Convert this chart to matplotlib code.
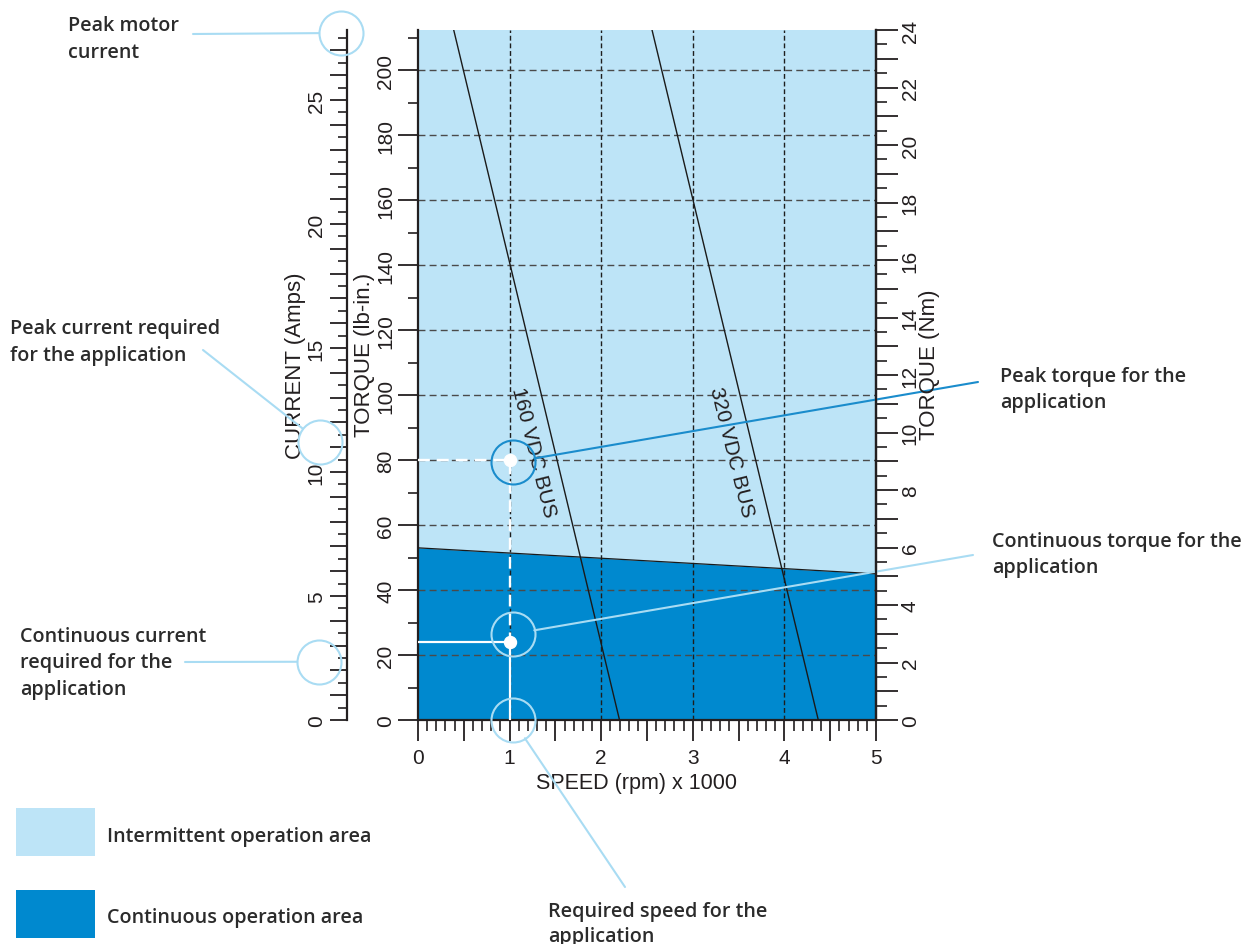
import matplotlib
matplotlib.use("Agg")
import matplotlib.pyplot as plt
from matplotlib.patches import Rectangle
from matplotlib.ticker import MultipleLocator, FuncFormatter
from matplotlib.transforms import offset_copy

W, H = 1256, 945
DPI = 100

# --- chart data ---
NM_TO_LBIN = 8.8507
torque_max_nm = 24
torque_max = torque_max_nm * NM_TO_LBIN      # lb-in at top of chart
current_max = 27.82                          # Amps at top of chart
speed_max = 5                                # rpm x 1000

cont_speed = [0, 5]
cont_torque = [53, 45]

bus160_speed = [0.39, 2.2]
bus160_torque = [torque_max, 0]
bus320_speed = [2.555, 4.37]
bus320_torque = [torque_max, 0]

app_speed = 1.0
app_peak_torque = 80
app_cont_torque = 24
peak_motor_current = 27.7
app_peak_current = 11.2
app_cont_current = 2.35

# --- styles ---
LIGHT = '#bde4f7'
DARK = '#0089cf'
LEADER = '#a9dcf3'
INK = '#231f20'
TXT = '#2b2b2b'
AXFONT = 'Liberation Sans'
NOTEFONT = ['Open Sans', 'DejaVu Sans']
TICK_FS = 15
LABEL_FS = 16
NOTE_FS = 14.2
PT = 72 / DPI  # points per pixel

plt.rcParams['font.family'] = [AXFONT, 'DejaVu Sans']


def px(x, y):
    """top-left pixel position -> figure fraction"""
    return x / W, 1 - y / H


fig = plt.figure(figsize=(W / DPI, H / DPI), dpi=DPI)

# main torque-speed axes
ax = fig.add_axes([418 / W, 1 - 721 / H, 458 / W, 690 / H])
ax.set_xlim(0, speed_max)
ax.set_ylim(0, torque_max)
ax.set_facecolor(LIGHT)
ax.fill_between(cont_speed, 0, cont_torque, color=DARK, lw=0, zorder=1)

for x in range(1, speed_max):
    ax.axvline(x, color='#1e1e1e', lw=1.0, dashes=(3.5, 2), zorder=2)
for y in range(20, 201, 20):
    ax.axhline(y, color='#4a4a4a', lw=1.0, dashes=(5, 3), zorder=2)

ax.plot(cont_speed, cont_torque, color='#1a1a1a', lw=0.9, zorder=3)
ax.plot(bus160_speed, bus160_torque, color='#1a1a1a', lw=1.0, zorder=4)
ax.plot(bus320_speed, bus320_torque, color='#1a1a1a', lw=1.0, zorder=4)
ax.text(1.266, 82.8, '160 VDC BUS', rotation=-76, rotation_mode='anchor',
        ha='center', va='center', fontsize=TICK_FS, color=INK, zorder=5)
ax.text(3.417, 82.8, '320 VDC BUS', rotation=-76, rotation_mode='anchor',
        ha='center', va='center', fontsize=TICK_FS, color=INK, zorder=5)

# application operating point guides
ax.plot([0, app_speed, app_speed], [app_peak_torque, app_peak_torque, app_cont_torque],
        color='white', lw=1.7, dashes=(5, 3), zorder=6)
ax.plot([0, app_speed, app_speed], [app_cont_torque, app_cont_torque, 0],
        color='white', lw=1.6, zorder=6)
ax.plot([app_speed, app_speed], [app_peak_torque, app_cont_torque], 'o',
        color='white', ms=12 * PT, zorder=7)

for side in ['left', 'bottom', 'right']:
    ax.spines[side].set_linewidth(1.6)
    ax.spines[side].set_color(INK)
ax.spines['top'].set_visible(False)

ax.xaxis.set_major_locator(MultipleLocator(0.5))
ax.xaxis.set_minor_locator(MultipleLocator(0.1))
ax.xaxis.set_major_formatter(FuncFormatter(lambda v, p: f'{v:.0f}' if v == int(v) else ''))
ax.tick_params(axis='x', which='major', length=21 * PT, width=1.3, color=INK,
               labelsize=TICK_FS, pad=5, labelcolor=INK)
ax.tick_params(axis='x', which='minor', length=11 * PT, width=1.2, color=INK)
ax.set_xlabel('SPEED (rpm) x 1000', fontsize=15.5, color=INK)
ax.xaxis.set_label_coords(*px(636, 773), transform=fig.transFigure)

ax.yaxis.set_major_locator(MultipleLocator(20))
ax.yaxis.set_minor_locator(MultipleLocator(10))
ax.yaxis.set_major_formatter(FuncFormatter(lambda v, p: f'{v:.0f}' if v <= 200 else ''))
ax.tick_params(axis='y', which='major', length=20 * PT, width=1.3, color=INK,
               labelsize=TICK_FS, pad=2, labelrotation=90, labelcolor=INK)
ax.tick_params(axis='y', which='minor', length=10 * PT, width=1.2, color=INK)
for lbl in ax.get_yticklabels():
    lbl.set_va('center')
ax.set_ylabel('TORQUE (lb-in.)', fontsize=LABEL_FS, color=INK)
ax.yaxis.set_label_coords(*px(375, 355), transform=fig.transFigure)

# right Nm axis
ax2 = ax.twinx()
ax2.set_ylim(0, torque_max_nm)
ax2.patch.set_visible(False)
for side in ['left', 'bottom', 'top']:
    ax2.spines[side].set_visible(False)
ax2.spines['right'].set_linewidth(1.6)
ax2.spines['right'].set_color(INK)
ax2.yaxis.set_major_locator(MultipleLocator(1))
ax2.yaxis.set_minor_locator(MultipleLocator(0.5))
ax2.yaxis.set_major_formatter(FuncFormatter(lambda v, p: f'{v:.0f}' if int(round(v)) % 2 == 0 else ''))
ax2.tick_params(axis='y', which='major', length=22 * PT, width=1.3, color=INK,
                labelsize=TICK_FS, pad=2, labelrotation=90, labelcolor=INK)
ax2.tick_params(axis='y', which='minor', length=11 * PT, width=1.2, color=INK)
for lbl in ax2.get_yticklabels():
    lbl.set_va('center')
ax2.set_ylabel('TORQUE (Nm)', fontsize=LABEL_FS, color=INK)
ax2.yaxis.set_label_coords(*px(919, 365), transform=fig.transFigure)

# current scale
axc = fig.add_axes([347 / W, 1 - 721 / H, 0.0005, 690 / H])
axc.set_ylim(0, current_max)
axc.patch.set_visible(False)
for side in ['right', 'bottom', 'top']:
    axc.spines[side].set_visible(False)
axc.spines['left'].set_linewidth(1.6)
axc.spines['left'].set_color(INK)
axc.set_xticks([])
axc.yaxis.set_major_locator(MultipleLocator(1))
axc.yaxis.set_minor_locator(MultipleLocator(0.5))
axc.yaxis.set_major_formatter(FuncFormatter(lambda v, p: f'{v:.0f}' if int(round(v)) % 5 == 0 else ''))
axc.tick_params(axis='y', which='major', length=17 * PT, width=1.3, color=INK,
                labelsize=TICK_FS, pad=3, labelrotation=90, labelcolor=INK)
axc.tick_params(axis='y', which='minor', length=9 * PT, width=1.2, color=INK)
for lbl in axc.get_yticklabels():
    lbl.set_va('center')
axc.set_ylabel('CURRENT (Amps)', fontsize=LABEL_FS, color=INK)
axc.yaxis.set_label_coords(*px(306, 366), transform=fig.transFigure)

# callout circles and leader lines
R = 22  # circle radius, px


def callout(axes, trans, x, y, color, end_px, dx=0, dy=0):
    tr = offset_copy(trans, fig=fig, x=dx, y=dy, units='dots')
    axes.plot([x], [y], marker='o', ms=2 * R * PT, mfc='none', mec=color,
              mew=1.5, transform=tr, clip_on=False, zorder=8)
    axes.annotate('', xy=(x, y), xycoords=tr,
                  xytext=(end_px[0], H - end_px[1]), textcoords='figure pixels',
                  arrowprops=dict(arrowstyle='-', color=color, lw=1.5,
                                  shrinkA=0, shrinkB=R * PT),
                  annotation_clip=False, zorder=8)


callout(ax, ax.transData, app_speed, app_peak_torque, '#1a8ccc', (978, 383), dx=3, dy=-2)
callout(ax, ax.transData, app_speed, app_cont_torque, LEADER, (973, 556), dx=3, dy=8)
callout(ax, ax.transData, app_speed, 0, LEADER, (625, 888), dx=3, dy=0)
callout(axc, axc.get_yaxis_transform(), 0, peak_motor_current, LEADER, (193, 35), dx=-6)
callout(axc, axc.get_yaxis_transform(), 0, app_peak_current, LEADER, (203, 351), dx=-27)
callout(axc, axc.get_yaxis_transform(), 0, app_cont_current, LEADER, (185, 663), dx=-28)


def note(x, y, lines, dy=26.5):
    for i, s in enumerate(lines):
        fig.text(*px(x, y + i * dy), s, ha='left', va='baseline', fontsize=NOTE_FS,
                 color=TXT, family=NOTEFONT, fontweight='semibold')


note(68, 31, ['Peak motor', 'current'])
note(10, 334, ['Peak current required', 'for the application'])
note(20, 642, ['Continuous current', 'required for the', 'application'])
note(1000, 382, ['Peak torque for the', 'application'])
note(992, 547, ['Continuous torque for the', 'application'])
note(548, 917, ['Required speed for the', 'application'], dy=25.5)

# legend swatches
fig.add_artist(Rectangle(px(16, 857), 79 / W, 48 / H, transform=fig.transFigure,
                         color=LIGHT, lw=0))
fig.add_artist(Rectangle(px(16, 939), 79 / W, 48 / H, transform=fig.transFigure,
                         color=DARK, lw=0))
note(107, 842, ['Intermittent operation area'])
note(107, 923, ['Continuous operation area'])

fig.savefig('out.png', dpi=DPI)
